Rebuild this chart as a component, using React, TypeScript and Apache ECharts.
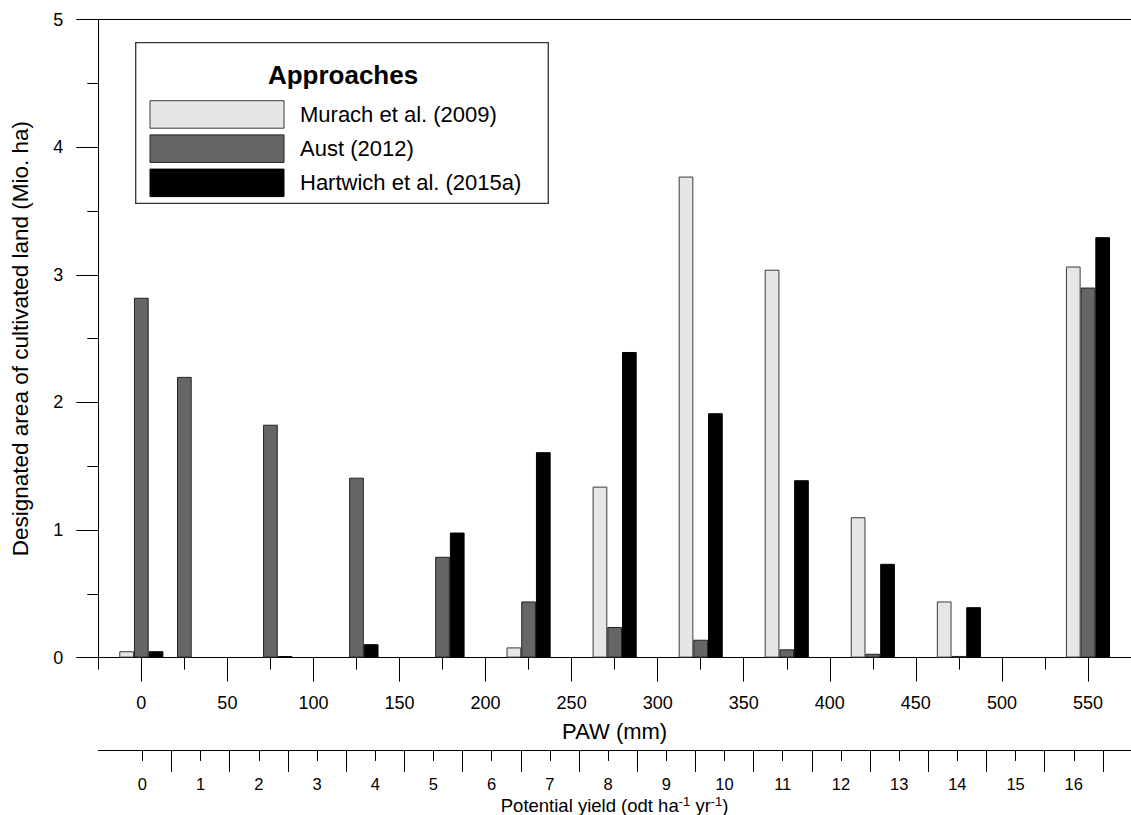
import React, { useEffect, useRef } from "react";
import * as echarts from "echarts";

// ---- data ----
const pawClasses = [0, 25, 75, 125, 175, 225, 275, 325, 375, 425, 475, 550];
const murach = [0.05, null, null, null, null, 0.08, 1.34, 3.77, 3.04, 1.1, 0.44, 3.065];
const aust = [2.82, 2.2, 1.825, 1.41, 0.79, 0.44, 0.24, 0.14, 0.065, 0.03, 0.013, 2.9];
const hartwich = [0.05, null, 0.012, 0.105, 0.98, 1.61, 2.395, 1.915, 1.39, 0.735, 0.395, 3.295];
const seriesNames = ["Murach et al. (2009)", "Aust (2012)", "Hartwich et al. (2015a)"];
const seriesValues = [murach, aust, hartwich];
const pawTicks = [0, 50, 100, 150, 200, 250, 300, 350, 400, 450, 500, 550];
const pawMinorTicks = [-25, 25, 75, 125, 175, 225, 275, 325, 375, 425, 475, 525];
const yieldTicks = [0, 1, 2, 3, 4, 5, 6, 7, 8, 9, 10, 11, 12, 13, 14, 15, 16];
const yieldHalfTicks = [0.5, 1.5, 2.5, 3.5, 4.5, 5.5, 6.5, 7.5, 8.5, 9.5, 10.5, 11.5, 12.5, 13.5, 14.5, 15.5, 16.5];

// ---- styles ----
const FONT = "'Liberation Sans', Arial, sans-serif";
const fills = ["#e6e6e6", "#666666", "#000000"];
const borders = ["#3a3a3a", "#222222", "#000000"];

export default function App() {
  const ref = useRef<HTMLDivElement>(null);
  useEffect(() => {
    if (!ref.current) return;
    const chart = echarts.init(ref.current, undefined, { renderer: "svg" });

    const series = seriesValues.map((vals, si) => ({
      type: "bar",
      name: seriesNames[si],
      xAxisIndex: 0,
      yAxisIndex: 0,
      barWidth: 14.7,
      barGap: "0%",
      data: pawClasses
        .map((x, i) => [x, vals[i]])
        .filter((d) => d[1] !== null),
      itemStyle: { color: fills[si], borderColor: borders[si], borderWidth: 1 },
    }));

    const legendGraphics: any[] = [
      {
        type: "rect",
        shape: { x: 135.7, y: 42.7, width: 412.6, height: 160.6 },
        style: { fill: "#fff", stroke: "#333", lineWidth: 1.3 },
      },
      {
        type: "text",
        x: 343,
        y: 75,
        style: {
          text: "Approaches",
          font: `bold 26px ${FONT}`,
          fill: "#000",
          textAlign: "center",
          textVerticalAlign: "middle",
        },
      },
    ];
    seriesNames.forEach((n, i) => {
      legendGraphics.push({
        type: "rect",
        shape: { x: 150, y: 100.7 + i * 34.2, width: 134, height: 27.5 },
        style: { fill: fills[i], stroke: borders[i], lineWidth: 1 },
      });
      legendGraphics.push({
        type: "text",
        x: 300,
        y: 114.5 + i * 34.2,
        style: {
          text: n,
          font: `22px ${FONT}`,
          fill: "#000",
          textAlign: "left",
          textVerticalAlign: "middle",
        },
      });
    });

    const axisLine = { show: true, onZero: false, lineStyle: { color: "#000", width: 1 } };

    chart.setOption({
      animation: false,
      backgroundColor: "#fff",
      grid: [
        { left: 98.3, top: 19.6, width: 1040, height: 638 },
        { left: 98.3, top: 749.7, width: 1040, height: 1 },
      ],
      xAxis: [
        {
          gridIndex: 0,
          type: "value",
          min: -25,
          max: 575,
          position: "bottom",
          axisLine,
          axisTick: { show: true, customValues: pawTicks, length: 24, lineStyle: { color: "#000" } },
          axisLabel: { customValues: pawTicks, margin: 36, fontSize: 18, color: "#000", fontFamily: FONT },
          splitLine: { show: false },
          name: "PAW (mm)",
          nameLocation: "middle",
          nameGap: 63,
          nameTextStyle: { fontSize: 22, color: "#000", fontFamily: FONT },
        },
        {
          gridIndex: 0,
          type: "value",
          min: -25,
          max: 575,
          position: "bottom",
          axisLine: { show: false, onZero: false },
          axisTick: { show: true, customValues: pawMinorTicks, length: 12, lineStyle: { color: "#000" } },
          axisLabel: { show: false },
          splitLine: { show: false },
        },
        {
          gridIndex: 0,
          type: "value",
          min: -25,
          max: 575,
          position: "top",
          axisLine,
          axisTick: { show: false },
          axisLabel: { show: false },
          splitLine: { show: false },
        },
        {
          gridIndex: 1,
          type: "value",
          min: -0.757,
          max: 16.983,
          position: "bottom",
          axisLine,
          axisTick: { show: true, customValues: yieldTicks, length: 11, lineStyle: { color: "#000" } },
          axisLabel: { customValues: yieldTicks, margin: 26, fontSize: 16.5, color: "#000", fontFamily: FONT },
          splitLine: { show: false },
          name: "{n|Potential yield (odt ha}{s|-1}{n| yr}{s|-1}{n|)}",
          nameLocation: "middle",
          nameGap: 45,
          nameTextStyle: {
            color: "#000",
            fontFamily: FONT,
            rich: {
              n: { fontSize: 18.5, color: "#000", fontFamily: FONT },
              s: { fontSize: 13, color: "#000", fontFamily: FONT, padding: [0, 0, 9, 0] },
            },
          },
        },
        {
          gridIndex: 1,
          type: "value",
          min: -0.757,
          max: 16.983,
          position: "bottom",
          axisLine: { show: false, onZero: false },
          axisTick: { show: true, customValues: yieldHalfTicks, length: 22, lineStyle: { color: "#000" } },
          axisLabel: { show: false },
          splitLine: { show: false },
        },
      ],
      yAxis: [
        {
          gridIndex: 0,
          type: "value",
          min: 0,
          max: 5,
          interval: 1,
          axisLine,
          axisTick: { show: true, length: 22, lineStyle: { color: "#000" } },
          minorTick: { show: true, splitNumber: 2, length: 11, lineStyle: { color: "#000" } },
          axisLabel: { margin: 35, fontSize: 18, color: "#000", fontFamily: FONT },
          splitLine: { show: false },
          minorSplitLine: { show: false },
          name: "Designated area of cultivated land (Mio. ha)",
          nameLocation: "middle",
          nameGap: 66,
          nameTextStyle: { fontSize: 22.5, color: "#000", fontFamily: FONT },
        },
        { gridIndex: 1, type: "value", min: 0, max: 1, show: false },
      ],
      series,
      graphic: legendGraphics,
    });

    return () => chart.dispose();
  }, []);

  return (
    <div
      ref={ref}
      style={{ position: "absolute", left: 0, top: 0, width: 1131, height: 815 }}
    />
  );
}
